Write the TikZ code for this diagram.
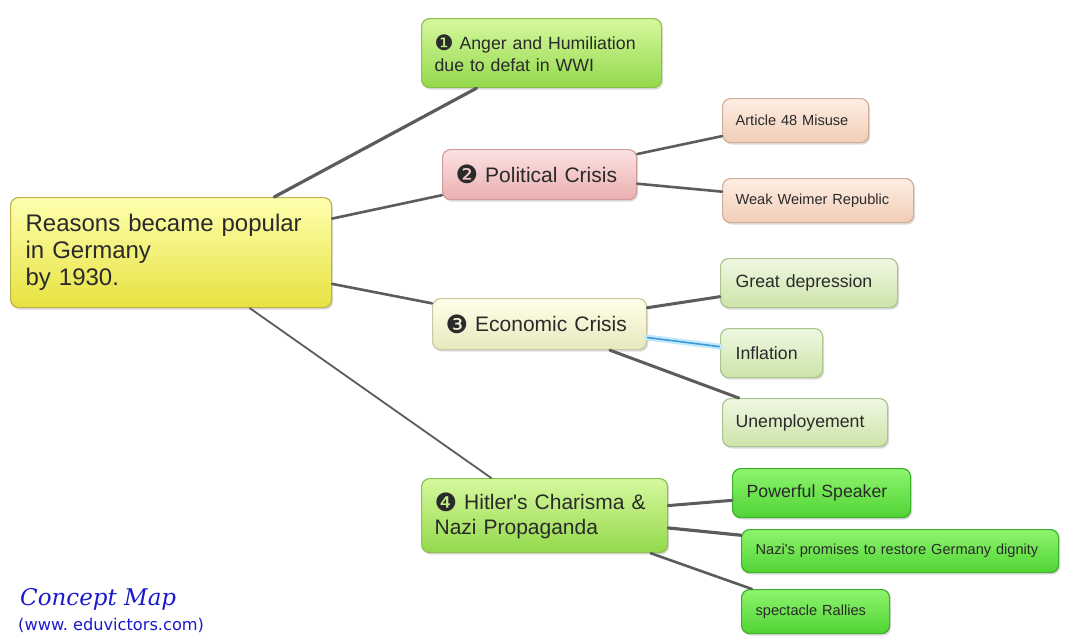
\documentclass[tikz,border=0pt]{standalone}
\usepackage{fontspec}
\setmainfont{Liberation Sans}
\newfontfamily\dingfont{DejaVu Sans}
\newfontfamily\tagfont{DejaVu Serif}
\newfontfamily\urlfont{DejaVu Sans}
\usetikzlibrary{shadows}
\frenchspacing
\definecolor{maptext}{HTML}{2A2A2A}
\definecolor{linkgray}{HTML}{5C5C5C}
\definecolor{linkblue}{HTML}{3A9AD8}
\definecolor{linkglow}{HTML}{C4E8FA}
\definecolor{rootTop}{HTML}{FFFFAE}
\definecolor{rootBot}{HTML}{E6E241}
\definecolor{rootRim}{HTML}{BDB24C}
\definecolor{limeTop}{HTML}{D6F89E}
\definecolor{limeBot}{HTML}{93D94B}
\definecolor{limeRim}{HTML}{8CC24C}
\definecolor{pinkTop}{HTML}{FCE2E2}
\definecolor{pinkBot}{HTML}{EAAFAF}
\definecolor{pinkRim}{HTML}{D29C9C}
\definecolor{creamTop}{HTML}{FFFFEA}
\definecolor{creamBot}{HTML}{E8E8BE}
\definecolor{creamRim}{HTML}{C8C8A2}
\definecolor{peachTop}{HTML}{FDEEE4}
\definecolor{peachBot}{HTML}{F1CDB6}
\definecolor{peachRim}{HTML}{D1AE98}
\definecolor{sageTop}{HTML}{F0F8E2}
\definecolor{sageBot}{HTML}{CCE3A9}
\definecolor{sageRim}{HTML}{A9C68E}
\definecolor{grassTop}{HTML}{8EF56E}
\definecolor{grassBot}{HTML}{50D334}
\definecolor{grassRim}{HTML}{3EB02B}
\definecolor{tagblue}{HTML}{1A1ACC}
\tikzset{
  mapbox/.style    = {rectangle, rounded corners=8pt, anchor=north west,
                      align=left, inner xsep=13pt, inner ysep=2pt,
                      text=maptext, line width=1.2pt,
                      drop shadow={shadow xshift=1.5pt, shadow yshift=-2pt,
                                   opacity=0.28}},
  rootbox/.style   = {mapbox, top color=rootTop, bottom color=rootBot,
                      draw=rootRim, font=\fontsize{24}{27}\selectfont},
  limebox/.style   = {mapbox, top color=limeTop, bottom color=limeBot,
                      draw=limeRim},
  pinkbox/.style   = {mapbox, top color=pinkTop, bottom color=pinkBot,
                      draw=pinkRim, font=\fontsize{21}{25}\selectfont},
  creambox/.style  = {mapbox, top color=creamTop, bottom color=creamBot,
                      draw=creamRim, font=\fontsize{21}{25}\selectfont},
  peachbox/.style  = {mapbox, top color=peachTop, bottom color=peachBot,
                      draw=peachRim, font=\fontsize{14.6}{18}\selectfont},
  sagebox/.style   = {mapbox, top color=sageTop, bottom color=sageBot,
                      draw=sageRim, font=\fontsize{17.7}{21}\selectfont},
  grassbox/.style  = {mapbox, top color=grassTop, bottom color=grassBot,
                      draw=grassRim},
  mapedge/.style   = {draw=linkgray, line width=#1, line cap=round},
  glowedge/.style  = {draw=linkglow, line width=6pt, line cap=round},
  blueedge/.style  = {draw=linkblue, line width=1.6pt},
  tagtitle/.style  = {anchor=base west, inner sep=0pt, text=tagblue,
                      font=\tagfont\itshape\fontsize{23}{27}\selectfont},
  tagurl/.style    = {anchor=base west, inner sep=0pt, text=tagblue,
                      font=\urlfont\fontsize{16.2}{19}\selectfont},
}
\newcommand{\numdot}[1]{\raisebox{-0.08em}{\scalebox{1.2}{\dingfont #1}}}

\begin{document}
\begin{tikzpicture}[x=1pt, y=-1pt]
  \useasboundingbox[fill=white] (0,0) rectangle (1069,643);
  % main idea and the four reasons
  \node[rootbox, inner xsep=15pt, minimum width=321pt, minimum height=110pt,
    text width=291pt]
    (root) at (10,197) {Reasons became popular\\in Germany\\by 1930.};
  \node[limebox, font=\fontsize{17.7}{22}\selectfont, minimum width=240pt,
    minimum height=69pt, text width=214pt]
    (anger) at (421,18) {\numdot{❶} Anger and Humiliation\\due to defat in WWI};
  \node[pinkbox, minimum width=194pt, minimum height=50pt, text width=168pt]
    (polit) at (442,149) {\numdot{❷} Political Crisis};
  \node[creambox, minimum width=214pt, minimum height=51pt, text width=188pt]
    (econ) at (432,298) {\numdot{❸} Economic Crisis};
  \node[limebox, font=\fontsize{21}{25}\selectfont, minimum width=246pt,
    minimum height=74pt, text width=220pt]
    (hitler) at (421,478)
    {\numdot{❹} Hitler\textquotesingle s Charisma \&\\Nazi Propaganda};
  % details
  \node[peachbox, minimum width=146pt, minimum height=44pt, text width=120pt]
    (art) at (722,98) {Article 48 Misuse};
  \node[peachbox, minimum width=191pt, minimum height=44pt, text width=165pt]
    (weimar) at (722,178) {Weak Weimer Republic};
  \node[sagebox, inner xsep=15pt, minimum width=177pt, minimum height=49pt,
    text width=147pt]
    (depr) at (720,258) {Great depression};
  \node[sagebox, inner xsep=15pt, minimum width=102pt, minimum height=49pt,
    text width=72pt]
    (infl) at (720,328) {Inflation};
  \node[sagebox, minimum width=165pt, minimum height=48pt, text width=139pt]
    (unemp) at (722,398) {Unemployement};
  \node[grassbox, inner xsep=14pt, font=\fontsize{17.7}{21}\selectfont,
    minimum width=178pt, minimum height=49pt, text width=150pt]
    (speak) at (732,468) {Powerful Speaker};
  \node[grassbox, inner xsep=14pt, font=\fontsize{14.6}{18}\selectfont,
    minimum width=317pt, minimum height=43pt, text width=289pt]
    (dign) at (741,529)
    {Nazi\textquotesingle s promises to restore Germany dignity};
  \node[grassbox, inner xsep=14pt, font=\fontsize{14.6}{18}\selectfont,
    minimum width=148pt, minimum height=44pt, text width=120pt]
    (rally) at (741,589) {spectacle Rallies};
  % connectors
  \foreach \a/\b/\w in {root/anger/3.2pt, root/polit/2.6pt, root/econ/2.6pt,
      root/hitler/1.8pt, polit/art/2.6pt, polit/weimar/2.6pt,
      econ/depr/3pt, econ/unemp/3pt, hitler/speak/3pt,
      hitler/dign/3.2pt, hitler/rally/2.6pt}
    {\draw[mapedge=\w] (\a) -- (\b);}
  \draw[glowedge] (econ) -- (infl);
  \draw[blueedge] (econ) -- (infl);
  % source tag
  \node[tagtitle] (tag) at (20,605) {Concept Map};
  \node[tagurl] (url) at (18,630) {(www. eduvictors.com)};
\end{tikzpicture}
\end{document}
